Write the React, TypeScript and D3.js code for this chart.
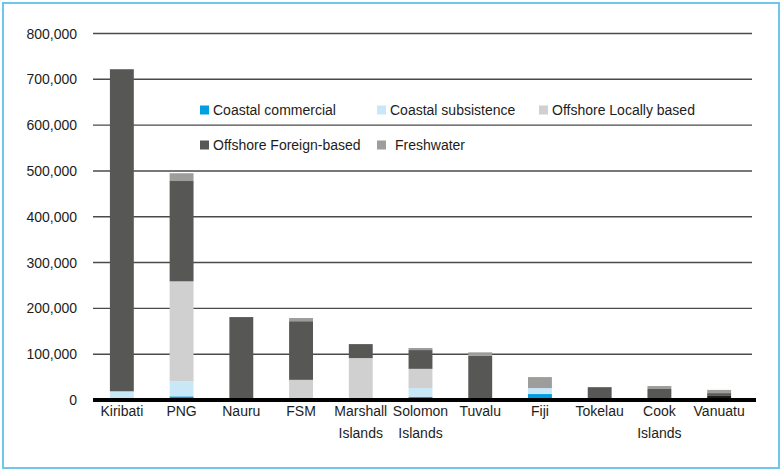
import { useEffect, useRef } from "react";
import * as d3 from "d3";

// categories (x axis), line breaks marked with \n
const countries = [
	"Kiribati",
	"PNG",
	"Nauru",
	"FSM",
	"Marshall\nIslands",
	"Solomon\nIslands",
	"Tuvalu",
	"Fiji",
	"Tokelau",
	"Cook\nIslands",
	"Vanuatu",
];

// series values
const coastalCommercial = [5000, 8000, 0, 1000, 500, 7000, 0, 13000, 0, 0, 0];
const coastalSubsistence = [14000, 33000, 0, 1000, 1000, 19000, 0, 13000, 0, 0, 0];
const offshoreLocal = [0, 218000, 0, 42000, 90000, 42000, 0, 0, 0, 0, 0];
const offshoreForeign = [703000, 219000, 181000, 128000, 30500, 41000, 97000, 0, 28000, 24000, 6000];
const freshwater = [0, 17000, 0, 7000, 0, 4500, 7000, 24000, 0, 6500, 7000];
// unlabelled dark segment at the bottom of Vanuatu
const unlabelled = [0, 0, 0, 0, 0, 0, 0, 0, 0, 0, 9000];

const seriesNames = [
	"Coastal commercial",
	"Coastal subsistence",
	"Offshore Locally based",
	"Offshore Foreign-based",
	"Freshwater",
];
const yTicks = [0, 100000, 200000, 300000, 400000, 500000, 600000, 700000, 800000];

const colors: Record<string, string> = {
	"": "#1d1d1b",
	"Coastal commercial": "#009fe3",
	"Coastal subsistence": "#c8e8f8",
	"Offshore Locally based": "#d0d0d0",
	"Offshore Foreign-based": "#575756",
	Freshwater: "#9d9d9c",
};

const W = 783;
const H = 471;
const FONT = "'Liberation Sans Narrow', 'Liberation Sans', Arial, sans-serif";

export default function App() {
	const ref = useRef<SVGSVGElement>(null);

	useEffect(() => {
		document.body.style.margin = "0";
		const svg = d3.select(ref.current);
		svg.selectAll("*").remove();

		const rows = countries.map((c, i) => ({
			country: c,
			"": unlabelled[i],
			"Coastal commercial": coastalCommercial[i],
			"Coastal subsistence": coastalSubsistence[i],
			"Offshore Locally based": offshoreLocal[i],
			"Offshore Foreign-based": offshoreForeign[i],
			Freshwater: freshwater[i],
		}));
		const keys = ["", ...seriesNames];
		const stacked = d3.stack<any>().keys(keys)(rows);

		const x = d3.scaleBand().domain(countries).range([92, 749]).paddingInner(0.6).paddingOuter(0.3);
		const y = d3.scaleLinear().domain([0, 800000]).range([400, 33.5]);

		// border
		svg
			.append("rect")
			.attr("x", 3)
			.attr("y", 3)
			.attr("width", 776)
			.attr("height", 465)
			.attr("fill", "white")
			.attr("stroke", "#6ec6ea")
			.attr("stroke-width", 2);

		// gridlines
		svg
			.append("g")
			.selectAll("line")
			.data(yTicks.filter((t) => t > 0))
			.enter()
			.append("line")
			.attr("x1", 93)
			.attr("x2", 752)
			.attr("y1", (d) => y(d))
			.attr("y2", (d) => y(d))
			.attr("stroke", "#4a4a4a")
			.attr("stroke-width", 1.4);

		// tick labels
		svg
			.append("g")
			.selectAll("text")
			.data(yTicks)
			.enter()
			.append("text")
			.attr("x", 77)
			.attr("y", (d) => y(d))
			.attr("dy", "0.36em")
			.attr("text-anchor", "end")
			.attr("font-family", FONT)
			.attr("font-size", 14)
			.attr("fill", "#1d1d1b")
			.text((d) => d3.format(",")(d));

		// bars
		svg
			.append("g")
			.selectAll("g")
			.data(stacked)
			.enter()
			.append("g")
			.attr("fill", (d) => colors[d.key])
			.selectAll("rect")
			.data((d) => d)
			.enter()
			.append("rect")
			.attr("x", (d) => x(d.data.country)!)
			.attr("width", x.bandwidth())
			.attr("y", (d) => y(d[1]))
			.attr("height", (d) => y(d[0]) - y(d[1]));

		// baseline
		svg
			.append("line")
			.attr("x1", 93)
			.attr("x2", 756)
			.attr("y1", y(0))
			.attr("y2", y(0))
			.attr("stroke", "#000")
			.attr("stroke-width", 4);

		// category labels
		const labels = svg
			.append("g")
			.selectAll("text")
			.data(countries)
			.enter()
			.append("text")
			.attr("x", (d) => x(d)! + x.bandwidth() / 2)
			.attr("y", 416)
			.attr("text-anchor", "middle")
			.attr("font-family", FONT)
			.attr("font-size", 14)
			.attr("fill", "#1d1d1b");
		labels
			.selectAll("tspan")
			.data((d) => d.split("\n"))
			.enter()
			.append("tspan")
			.attr("x", function () {
				return (this as any).parentNode.getAttribute("x");
			})
			.attr("dy", (d, i) => (i === 0 ? 0 : 22))
			.text((d) => d);

		// legend
		const legendPos = [
			[200, 110],
			[377, 110],
			[539, 110],
			[200, 145],
			[377, 145],
		];
		const lg = svg
			.append("g")
			.selectAll("g")
			.data(seriesNames)
			.enter()
			.append("g")
			.attr("transform", (d, i) => `translate(${legendPos[i][0]},${legendPos[i][1]})`);
		lg.append("rect")
			.attr("x", 0)
			.attr("y", -4.5)
			.attr("width", 9)
			.attr("height", 9)
			.attr("fill", (d) => colors[d]);
		lg.append("text")
			.attr("x", (d, i) => (i === 4 ? 18 : 13))
			.attr("dy", "0.36em")
			.attr("font-family", FONT)
			.attr("font-size", 14)
			.attr("fill", "#1d1d1b")
			.text((d) => d);
	}, []);

	return (
		<div style={{ position: "absolute", left: 0, top: 0 }}>
			<svg ref={ref} width={W} height={H} />
		</div>
	);
}
